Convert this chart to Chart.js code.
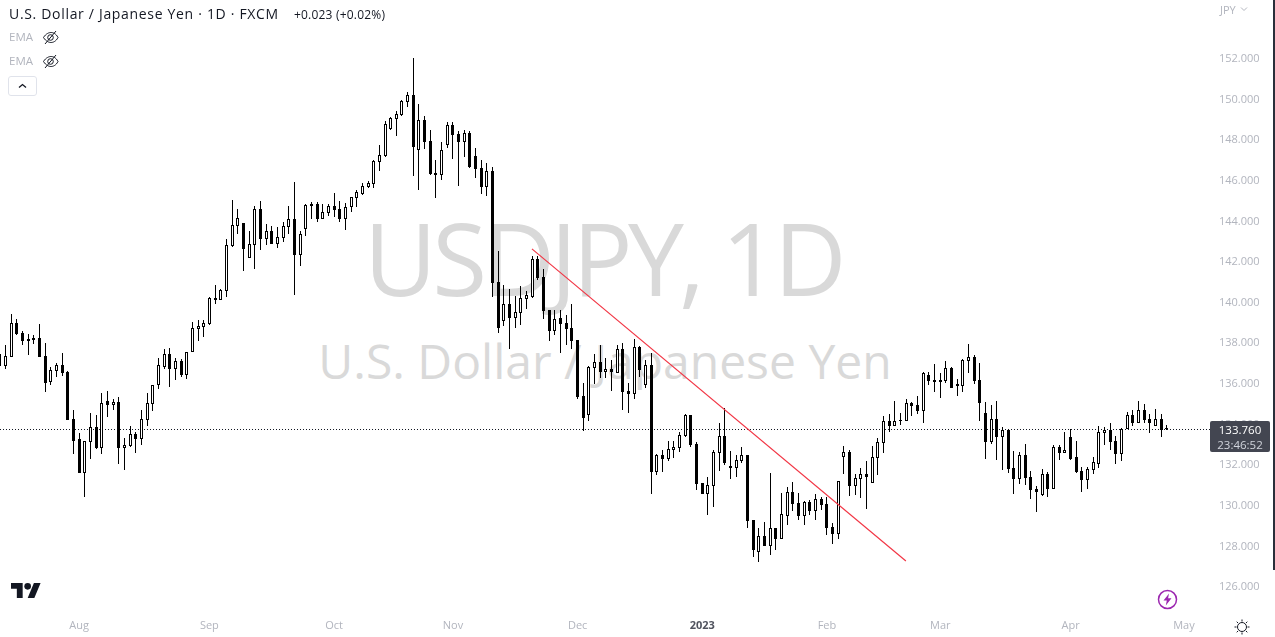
<!DOCTYPE html>
<html>
<head>
<meta charset="utf-8">
<title>USDJPY, 1D</title>
<script src="https://cdn.jsdelivr.net/npm/chart.js@4"></script>
<style>
  html, body { margin: 0; padding: 0; background: #fff; overflow: hidden; }
  body { width: 1275px; height: 637px; position: relative; font-family: "Open Sans", sans-serif; color: #131722; }
  canvas { position: absolute; left: 0; top: 0; z-index: 1; }
  .abs { position: absolute; white-space: nowrap; z-index: 2; }
  .mark { position: absolute; left: 0; width: 1210px; text-align: center; color: #d9d9d9; z-index: 0; white-space: nowrap; }
  #markTicker { left: -2px; top: 192px; font-size: 100px; line-height: 130px; letter-spacing: -4.7px; }
  #markName { left: 0; top: 330px; font-size: 48px; line-height: 62px; }
  #priceBox { left: 1210px; top: 421px; width: 60px; height: 30px; padding-top: 1px; background: #434651; border-radius: 2px; text-align: center; font-size: 11.5px; line-height: 15px; color: #fff; z-index: 3; }
  #priceBox div:last-child { color: #d1d4dc; }
  #edge { left: 1273px; top: 0; width: 2px; height: 570px; background: #2a2e39; }
  .ema { left: 9px; font-size: 11.5px; color: #b2b5be; }
  #collapse { left: 8px; top: 76px; width: 27px; height: 18px; border: 1px solid #e0e3eb; border-radius: 3px; }
</style>
</head>
<body>
<div class="mark" id="markTicker">USDJPY, 1D</div>
<div class="mark" id="markName">U.S. Dollar / Japanese Yen</div>
<canvas id="chart" width="1275" height="637"></canvas>

<div class="abs" style="left:9px;top:4px;font-size:14px;line-height:19px;letter-spacing:.68px">U.S. Dollar / Japanese Yen · 1D · FXCM</div>
<div class="abs" style="left:294px;top:6px;font-size:12px;line-height:17px;letter-spacing:.2px">+0.023 (+0.02%)</div>
<div class="abs ema" style="top:29px">EMA</div>
<div class="abs ema" style="top:53px">EMA</div>
<svg class="abs" style="left:42px;top:29px" width="17" height="17" viewBox="0 0 17 17" fill="none" stroke="#131722"><path d="M1.5 8.5C4 4.5 7 3.5 9 3.5s5 1 7 5c-2 4-5 5-7 5s-5-1-7.500-5z"/><circle cx="8.500" cy="8.500" r="2.800"/><path d="M14 2 3 15"/></svg>
<svg class="abs" style="left:42px;top:53px" width="17" height="17" viewBox="0 0 17 17" fill="none" stroke="#131722"><path d="M1.5 8.5C4 4.5 7 3.5 9 3.5s5 1 7 5c-2 4-5 5-7 5s-5-1-7.500-5z"/><circle cx="8.500" cy="8.500" r="2.800"/><path d="M14 2 3 15"/></svg>
<div class="abs" id="collapse"><svg width="27" height="18" viewBox="0 0 27 18" fill="none" stroke="#131722" stroke-width="1.300"><path d="M10 10.500 13.500 7.500 17 10.500"/></svg></div>
<div class="abs" style="left:1220px;top:2px;font-size:11px;line-height:15px;color:#b2b5be">JPY</div>
<svg class="abs" style="left:1240px;top:6px" width="8" height="6" viewBox="0 0 8 6" fill="none" stroke="#b2b5be"><path d="M1 1.500 4 4.500 7 1.500"/></svg>
<div class="abs" id="priceBox"><div>133.760</div><div>23:46:52</div></div>
<div class="abs" id="edge"></div>

<svg class="abs" style="left:11px;top:583px" width="30" height="15" viewBox="0 0 36 18"><path fill="#131722" d="M14 18H7V7H0V0h14v18zM28 18h-8L27.500 0h8L28 18z"/><circle fill="#131722" cx="20" cy="4" r="4"/></svg>
<svg class="abs" style="left:1157px;top:589px" width="21" height="21" viewBox="0 0 21 21"><circle cx="10.500" cy="10.500" r="9" fill="none" stroke="#9c27b0" stroke-width="1.500"/><path fill="#9c27b0" d="M12 4.500 6.500 11.500h3.300L8.800 16.500 14.500 9.300h-3.400z"/></svg>
<svg class="abs" style="left:1234px;top:619px" width="16" height="16" viewBox="0 0 16 16" fill="none" stroke="#131722"><circle cx="8" cy="8" r="4.500"/><path d="M8 .5v2M8 13.500v2M.5 8h2M13.500 8h2M2.700 2.700l1.400 1.400M11.900 11.900l1.400 1.400M2.700 13.300l1.400-1.400M11.900 4.100l1.400-1.400"/></svg>

<script>
const opens = [
  137.43,136.84,137.30,138.94,138.44,138.15,138.20,138.20,137.33,136.07,
  136.61,136.89,136.54,134.23,133.24,131.58,133.11,133.83,132.82,135.11,
  134.93,135.06,132.82,132.90,133.49,133.26,134.18,134.97,135.88,136.79,
  137.43,136.69,137.08,136.39,137.54,138.66,138.76,138.90,140.18,140.10,
  140.55,142.75,143.75,143.88,142.13,142.81,144.57,143.09,143.49,142.86,
  143.16,143.68,144.08,142.31,143.60,144.82,144.82,144.09,144.39,144.72,
  144.57,144.08,144.64,145.13,145.31,145.67,145.81,146.89,147.17,148.50,
  149.01,149.19,149.83,150.17,147.48,148.94,147.91,146.33,146.24,147.71,
  148.70,148.26,147.86,148.30,147.17,146.58,145.65,146.43,140.97,139.05,
  139.89,139.20,139.45,140.14,140.23,142.10,141.22,139.59,138.56,139.20,
  138.95,138.71,138.12,135.36,134.42,136.75,137.03,136.54,136.69,136.49,
  137.67,135.61,135.46,137.77,135.90,136.89,131.62,132.46,132.26,132.72,
  132.80,133.39,134.42,132.99,131.07,130.53,130.93,132.55,133.39,131.91,
  131.81,132.16,132.45,129.25,127.68,128.46,127.97,128.86,128.32,129.43,
  130.63,130.09,129.45,130.14,129.70,130.29,130.04,128.91,128.56,132.35,
  132.60,130.93,131.27,131.52,131.07,132.31,133.05,134.13,133.88,134.18,
  134.13,135.01,134.92,134.62,136.39,136.15,136.15,136.10,136.74,135.95,
  135.85,137.08,137.28,136.15,134.52,133.09,134.23,133.34,133.68,131.81,
  131.27,132.45,131.37,130.78,130.47,131.52,130.76,132.85,132.57,133.34,
  132.35,131.67,131.22,131.71,132.01,133.54,133.68,133.14,132.50,133.73,
  134.42,134.03,134.67,134.23,133.88,134.23,133.737
]
const highs = [
  137.60,137.87,139.40,139.15,138.56,138.41,138.36,138.90,137.95,136.77,
  136.98,137.48,136.59,134.67,133.54,133.13,134.52,134.42,135.51,135.61,
  135.21,135.31,133.29,133.88,133.59,134.67,135.51,135.90,137.23,137.67,
  137.72,137.23,137.18,137.53,139.00,139.10,139.10,140.23,140.82,140.63,
  143.09,145.01,144.57,143.88,143.49,144.72,144.96,143.83,143.73,143.68,
  143.93,144.72,145.90,143.49,144.82,144.92,144.92,144.82,144.82,145.36,
  144.96,144.87,145.16,145.51,145.85,145.95,146.98,147.71,148.89,149.09,
  149.39,149.93,150.32,152.00,149.73,149.14,148.45,146.98,147.86,148.85,
  148.85,148.40,148.45,148.40,147.57,146.98,146.83,146.63,142.50,140.82,
  140.63,140.28,140.78,140.53,142.25,142.25,141.61,139.59,139.59,139.59,
  139.35,139.89,138.12,136.00,136.84,137.43,137.87,137.23,137.13,137.87,
  137.97,136.00,138.17,137.82,137.13,137.48,132.51,132.70,133.14,133.14,
  133.59,134.47,134.42,133.09,131.07,131.37,132.70,134.03,134.77,132.65,
  132.45,132.85,132.45,129.25,128.86,129.15,131.57,128.86,130.58,130.88,
  131.12,130.58,130.19,130.24,130.53,130.38,130.38,129.11,131.17,132.90,
  132.70,131.52,131.81,132.16,132.90,133.29,134.37,134.47,135.11,134.52,
  135.21,135.06,135.36,136.54,136.54,136.93,136.49,137.08,136.79,136.20,
  137.18,137.92,137.38,136.98,135.06,134.92,135.11,133.83,133.73,132.65,
  132.60,132.99,131.67,130.93,131.76,131.62,132.95,132.95,133.59,133.73,
  133.14,131.86,131.86,132.35,133.88,133.83,134.03,133.39,133.78,134.57,
  134.67,135.11,134.96,134.47,134.72,134.47,133.93
]
const lows = [
  136.70,136.69,137.30,138.36,137.87,137.38,137.92,137.30,135.56,135.90,
  136.29,136.34,134.18,132.50,131.57,130.39,132.26,132.75,132.50,134.33,
  134.67,132.01,131.72,132.85,132.55,132.95,133.88,134.62,135.70,136.69,
  135.80,136.15,136.29,136.20,137.54,138.07,138.26,138.85,139.89,140.09,
  140.25,142.70,143.34,141.52,142.13,141.62,142.55,142.80,142.85,142.65,
  142.95,143.34,140.34,141.76,143.24,144.08,143.93,144.08,144.23,144.18,
  143.93,143.54,144.42,144.67,145.26,145.60,145.60,146.43,147.12,148.45,
  148.16,149.14,149.58,146.19,145.50,147.52,146.24,145.10,145.99,147.57,
  147.03,145.69,147.12,146.58,146.09,145.30,145.20,140.22,138.46,138.81,
  137.67,138.71,138.86,139.64,140.18,141.07,139.15,138.07,138.36,137.48,
  137.87,137.67,135.21,133.64,134.13,135.95,136.25,136.25,135.61,136.49,
  134.67,134.52,135.21,136.30,135.75,130.54,131.47,131.62,132.16,132.31,
  132.60,133.34,132.85,130.73,130.53,129.50,129.89,131.66,131.96,131.27,
  131.37,132.06,128.86,127.43,127.18,127.97,127.53,127.77,128.32,129.01,
  129.70,129.25,129.01,129.50,129.25,129.75,128.51,128.07,128.32,131.52,
  130.43,130.48,130.34,129.80,131.07,131.47,132.55,133.59,133.88,133.93,
  134.13,134.37,134.47,134.03,135.90,135.56,135.26,136.00,135.75,135.36,
  135.56,136.49,135.95,134.13,132.26,132.99,132.21,131.72,131.57,130.53,
  131.03,130.98,130.29,129.65,130.44,130.40,130.76,132.21,132.57,132.21,
  131.57,130.63,130.78,131.52,131.81,132.95,132.68,132.01,132.16,133.73,
  133.88,134.03,134.03,133.54,133.88,133.34,133.70
]
const closes = [
  136.84,137.33,138.94,138.41,138.07,138.08,138.13,137.30,136.02,136.64,
  136.89,136.51,134.18,133.14,131.57,133.13,133.82,132.80,135.00,134.92,
  135.06,132.80,132.95,133.49,133.26,134.23,135.02,135.90,136.89,137.43,
  136.69,137.08,136.39,137.53,138.71,138.80,138.95,140.18,140.09,140.58,
  142.78,143.78,144.13,142.60,142.85,144.57,143.09,143.49,142.85,143.19,
  143.73,144.08,142.31,143.34,144.77,144.73,144.08,144.42,144.72,144.52,
  144.08,144.67,145.16,145.41,145.70,145.85,146.93,147.20,148.75,149.04,
  149.24,149.88,150.17,147.62,148.94,147.86,146.27,146.25,147.47,148.70,
  148.21,147.86,148.30,146.63,146.53,145.65,146.43,140.92,138.71,139.89,
  139.20,139.50,140.19,140.33,142.10,141.17,139.54,138.56,139.15,138.91,
  138.66,138.07,135.31,134.28,136.79,137.03,136.54,136.69,136.54,137.67,
  135.56,135.46,137.77,136.64,136.89,131.62,132.46,132.26,132.75,132.85,
  133.44,134.42,132.95,131.02,130.53,130.97,132.60,133.39,132.06,131.81,
  132.21,132.45,129.20,127.78,128.46,127.97,128.86,128.32,129.55,130.63,
  130.04,129.45,130.14,129.70,130.29,129.99,128.86,128.56,131.17,132.60,
  130.93,131.32,131.52,131.37,132.35,133.09,134.13,133.88,134.13,134.13,
  135.01,134.87,134.62,136.49,136.10,136.05,136.05,136.74,135.75,135.85,
  137.13,137.28,136.10,135.01,133.09,134.23,133.34,133.68,131.76,131.27,
  132.45,131.32,130.73,130.63,131.52,130.76,132.85,132.57,132.70,132.26,
  131.62,131.22,131.76,132.11,133.59,133.68,133.09,132.50,133.73,134.42,
  134.03,134.67,134.18,134.03,134.23,133.68,133.76
]

const priceTicks = [126, 128, 130, 132, 134, 136, 138, 140, 142, 144, 146, 148, 150, 152]
const monthTicks = [14, 37, 59, 80, 102, 124, 146, 166, 189, 209]
const monthLabels = ['Aug', 'Sep', 'Oct', 'Nov', 'Dec', '2023', 'Feb', 'Mar', 'Apr', 'May']
const priceLine = 133.708
const trendX = [93.93, 159.93]
const trendY = [142.6, 127.23]

const xMin = 0.053
const xMax = 213.6
const yMin = 124.87
const yMax = 154.856

// TradingView draws on whole pixels, bars get snapped here so they stay crisp
const snapBars = {
  id: 'snapBars',
  beforeDatasetsDraw(chart) {
    chart.data.datasets.forEach((ds, i) => {
      if (ds.type === 'line') return
      chart.getDatasetMeta(i).data.forEach(bar => {
        bar.x = Math.floor(bar.x) + 0.5
        bar.y = Math.round(bar.y)
        bar.base = Math.round(bar.base)
        if (bar.base - bar.y < 1) bar.y = bar.base - 1
      })
    })
  }
}

new Chart(document.getElementById('chart'), {
  type: 'bar',
  plugins: [snapBars],
  data: {
    datasets: [
      {
        type: 'line',
        data: trendX.map((x, i) => ({ x, y: trendY[i] })),
        borderColor: '#f23645',
        borderWidth: 1.2,
        pointRadius: 0,
        order: 0
      },
      {
        data: opens.map((o, i) => ({ x: i, y: [Math.min(o, closes[i]), Math.max(o, closes[i])] })),
        backgroundColor: opens.map((o, i) => (closes[i] >= o ? '#ffffff' : '#000000')),
        borderColor: '#000000',
        borderWidth: 1,
        borderSkipped: false,
        barThickness: 3,
        inflateAmount: 0,
        grouped: false,
        order: 1
      },
      {
        data: lows.map((l, i) => ({ x: i, y: [l, highs[i]] })),
        backgroundColor: '#000000',
        borderWidth: 0,
        barThickness: 1,
        inflateAmount: 0,
        grouped: false,
        order: 2
      },
      {
        type: 'line',
        data: [{ x: xMin, y: priceLine }, { x: xMax, y: priceLine }],
        borderColor: '#131722',
        borderWidth: 1,
        borderDash: [1, 2],
        pointRadius: 0,
        order: 3
      }
    ]
  },
  options: {
    responsive: false,
    animation: false,
    events: [],
    layout: { padding: 0 },
    plugins: {
      legend: { display: false },
      tooltip: { enabled: false },
      title: { display: false }
    },
    scales: {
      x: {
        type: 'linear',
        offset: false,
        min: xMin,
        max: xMax,
        grid: { display: false, drawTicks: false, offset: false },
        border: { display: false },
        afterBuildTicks: scale => { scale.ticks = monthTicks.map(value => ({ value })) },
        afterFit: scale => { scale.height = 28; scale.paddingLeft = 0; scale.paddingRight = 0 },
        ticks: {
          autoSkip: false,
          maxRotation: 0,
          padding: 10,
          font: ctx => ({ family: 'Open Sans', size: 11, weight: monthLabels[ctx.index] === '2023' ? '700' : '400' }),
          color: ctx => (monthLabels[ctx.index] === '2023' ? '#50535e' : '#b2b5be'),
          callback: (value, i) => monthLabels[i]
        }
      },
      y: {
        position: 'right',
        min: yMin,
        max: yMax,
        grid: { display: false, drawTicks: false },
        border: { display: false },
        afterBuildTicks: scale => { scale.ticks = priceTicks.map(value => ({ value })) },
        afterFit: scale => { scale.width = 65; scale.paddingTop = 0; scale.paddingBottom = 0 },
        ticks: {
          autoSkip: false,
          padding: 9,
          labelOffset: 1,
          font: { family: 'Open Sans', size: 11 },
          color: '#b2b5be',
          callback: value => value.toFixed(3)
        }
      }
    }
  }
})
</script>
</body>
</html>
